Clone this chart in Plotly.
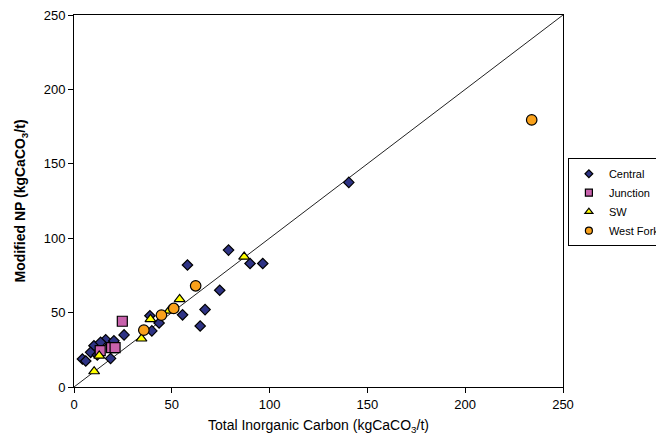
import plotly.graph_objects as go

central_x = [140.5, 79, 90, 96.5, 58, 74.5, 67, 64.5, 55.5, 43.5, 39.8, 38.8, 25.6, 16.2, 20.4, 10.2, 8.5, 4.3, 6.0, 18.7, 11.9, 13.6]
central_y = [137.5, 92, 83, 83, 82, 65, 52, 41, 48.5, 43, 37.7, 47.9, 35, 31.8, 31, 27.7, 23.3, 18.8, 17.5, 19.2, 21.5, 30]
junction_x = [24.7, 13.4, 19.2, 21.0]
junction_y = [44.2, 24.4, 26.4, 26.4]
sw_x = [87, 54, 48.6, 39.1, 34.5, 12.9, 10.3]
sw_y = [87.5, 59, 51.2, 45.6, 32.5, 21, 10.5]
wf_x = [234, 62.2, 51, 44.7, 35.7]
wf_y = [179.5, 68, 52.8, 48.3, 38.2]
line_x = [0, 250]
line_y = [0, 250]
ticks = [0, 50, 100, 150, 200, 250]

series = [
    ("Central", central_x, central_y, "diamond", 8, 6, "#2E3385"),
    ("Junction", junction_x, junction_y, "square", 10, 7, "#C862AC"),
    ("SW", sw_x, sw_y, "triangle-up", 9.5, 7, "#FFFF00"),
    ("West Fork", wf_x, wf_y, "circle", 10.5, 7, "#F9A11B"),
]

fig = go.Figure()
fig.add_trace(go.Scatter(x=line_x, y=line_y, mode="lines", line=dict(color="#222222", width=1),
                         showlegend=False, hoverinfo="skip"))
for name, xs, ys, sym, size, lsize, col in series:
    fig.add_trace(go.Scatter(x=xs, y=ys, mode="markers", name=name, showlegend=False,
                             marker=dict(symbol=sym, size=size, color=col,
                                         line=dict(color="black", width=1.2))))
for name, xs, ys, sym, size, lsize, col in series:
    fig.add_trace(go.Scatter(x=[None], y=[None], mode="markers", name=name, showlegend=True,
                             marker=dict(symbol=sym, size=lsize, color=col,
                                         line=dict(color="black", width=1.2))))

axis_common = dict(range=[0, 250], tickvals=ticks, ticks="outside", ticklen=5, tickcolor="black",
                   showline=True, linecolor="black", linewidth=1, mirror=True, showgrid=False,
                   zeroline=False, ticklabeloverflow="allow",
                   tickfont=dict(family="Liberation Sans, Arial", size=13, color="black"))

fig.update_layout(
    width=664, height=441,
    margin=dict(l=66, r=109, t=7, b=62, autoexpand=False),
    paper_bgcolor="white", plot_bgcolor="white",
    font=dict(family="Liberation Sans, Arial", size=12, color="black"),
    xaxis=dict(axis_common, title=dict(text="Total Inorganic Carbon (kgCaCO<sub>3</sub>/t)",
                                       font=dict(size=14), standoff=9)),
    yaxis=dict(axis_common, title=dict(text="<b>Modified NP (kgCaCO<sub>3</sub>/t)</b>",
                                       font=dict(size=14), standoff=14)),
    legend=dict(x=1.01, xanchor="left", y=0.615, yanchor="top",
                bordercolor="black", borderwidth=1, bgcolor="white",
                font=dict(size=11, family="Liberation Sans, Arial"),
                itemwidth=30, tracegroupgap=0),
    showlegend=True,
)

fig.write_html("out.html")
